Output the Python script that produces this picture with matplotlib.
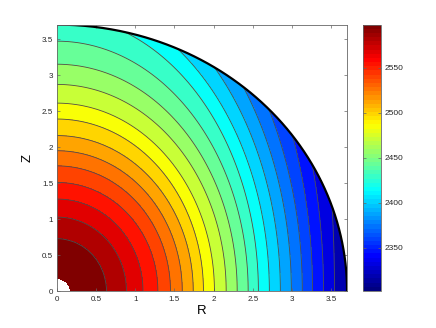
import numpy as np
import matplotlib
matplotlib.use("Agg")
import matplotlib.pyplot as plt
from matplotlib.colors import Normalize, LinearSegmentedColormap
from matplotlib.cm import ScalarMappable

plt.rcParams['font.family'] = ['Liberation Sans', 'DejaVu Sans']

levels = [2584, 2570, 2556, 2542, 2527, 2513, 2499, 2485, 2471, 2457,
          2443, 2429, 2415, 2401, 2386, 2372, 2358, 2344, 2330, 2316]
t_max = 2598
t_min = 2302
# where each level crosses the R axis (Z=0)
r_cross = [0.635, 0.889, 1.10, 1.29, 1.45, 1.60, 1.74, 1.87, 2.01, 2.16,
           2.30, 2.44, 2.57, 2.71, 2.85, 2.99, 3.13, 3.26, 3.40, 3.54]
# where the first 12 levels cross the Z axis (R=0)
z_cross = [0.73, 1.03, 1.28, 1.51, 1.74, 1.95, 2.16, 2.39, 2.61, 2.87, 3.15, 3.47]
# angle (deg) where the other 8 levels meet the outer boundary
edge_deg = [76.4, 65.4, 57.1, 50.0, 43.1, 35.7, 28.4, 18.5]
r_hole = 0.175
r_edge = 3.7
cbar_ticks = [2350, 2400, 2450, 2500, 2550]

levels = np.array(levels, dtype=float)
r_cross = np.array(r_cross)
th_e = np.radians(edge_deg)
b = np.concatenate([z_cross,
                    np.sin(th_e) / np.sqrt(1 / r_edge**2 - (np.cos(th_e) / r_cross[12:])**2)])

rho = np.linspace(r_hole, r_edge, 300)
theta = np.linspace(0, np.pi / 2, 300)
P, TH = np.meshgrid(rho, theta)
T = np.zeros_like(P)
for i, t in enumerate(theta):
    rk = 1 / np.sqrt((np.cos(t) / r_cross)**2 + (np.sin(t) / b)**2)
    xs = np.concatenate([[r_hole], rk])
    ys = np.concatenate([[t_max], levels])
    slope = (ys[-1] - ys[-2]) / (xs[-1] - xs[-2])
    xs = np.append(xs, 20.0)
    ys = np.append(ys, levels[-1] + slope * (20.0 - rk[-1]))
    T[i] = np.interp(rho, xs, ys)
T = np.clip(T, t_min, t_max)
X = P * np.cos(TH)
Y = P * np.sin(TH)

# matlab style jet, 64 steps
mjet = LinearSegmentedColormap('mjet', {
    'red':   [(0, 0, 0), (0.375, 0, 0), (0.625, 1, 1), (0.875, 1, 1), (1, 0.5, 0.5)],
    'green': [(0, 0, 0), (0.125, 0, 0), (0.375, 1, 1), (0.625, 1, 1), (0.875, 0, 0), (1, 0, 0)],
    'blue':  [(0, 0.5, 0.5), (0.125, 1, 1), (0.375, 1, 1), (0.625, 0, 0), (1, 0, 0)],
}, N=64)
norm = Normalize(t_min, t_max)
lv = np.sort(levels)
bounds = np.concatenate([[t_min - 1], lv, [t_max + 1]])
uppers = np.concatenate([lv, [t_max]])
fill_colors = [mjet(norm(v)) for v in uppers]

fig = plt.figure(figsize=(4.36, 3.28), dpi=100)
ax = fig.add_axes([0.130, 0.112, 0.666, 0.813])
ax.contourf(X, Y, T, levels=bounds, colors=fill_colors)
ax.contour(X, Y, T, levels=lv, colors='0.3', linewidths=0.6)
ax.plot(r_edge * np.cos(theta), r_edge * np.sin(theta), color='k', lw=1.6)
ax.set_xlim(0, 3.7)
ax.set_ylim(0, 3.7)
ax.set_xticks(np.arange(0, 3.6, 0.5))
ax.set_yticks(np.arange(0, 3.6, 0.5))
ax.set_xticklabels(['0', '0.5', '1', '1.5', '2', '2.5', '3', '3.5'])
ax.set_yticklabels(['0', '0.5', '1', '1.5', '2', '2.5', '3', '3.5'])
ax.tick_params(direction='in', length=2.5, width=0.5, top=True, right=True,
               labelsize=5.8, colors='0.4', labelcolor='0.15')
ax.tick_params(axis='x', pad=3.5)
ax.tick_params(axis='y', pad=2.5)
for s in ax.spines.values():
    s.set_color('0.4')
    s.set_linewidth(0.6)
ax.set_xlabel('R', fontsize=9.5, labelpad=1)
ax.set_ylabel('Z', fontsize=9.5, labelpad=6)

cax = fig.add_axes([0.832, 0.113, 0.0427, 0.812])
cb = fig.colorbar(ScalarMappable(norm=norm, cmap=mjet), cax=cax, ticks=cbar_ticks)
cb.outline.set_edgecolor('0.4')
cb.outline.set_linewidth(0.6)
cax.tick_params(direction='in', length=2, width=0.5, left=True, right=True,
                labelsize=6, colors='0.4', labelcolor='0.15', pad=2)

fig.savefig('out.png', dpi=100)
